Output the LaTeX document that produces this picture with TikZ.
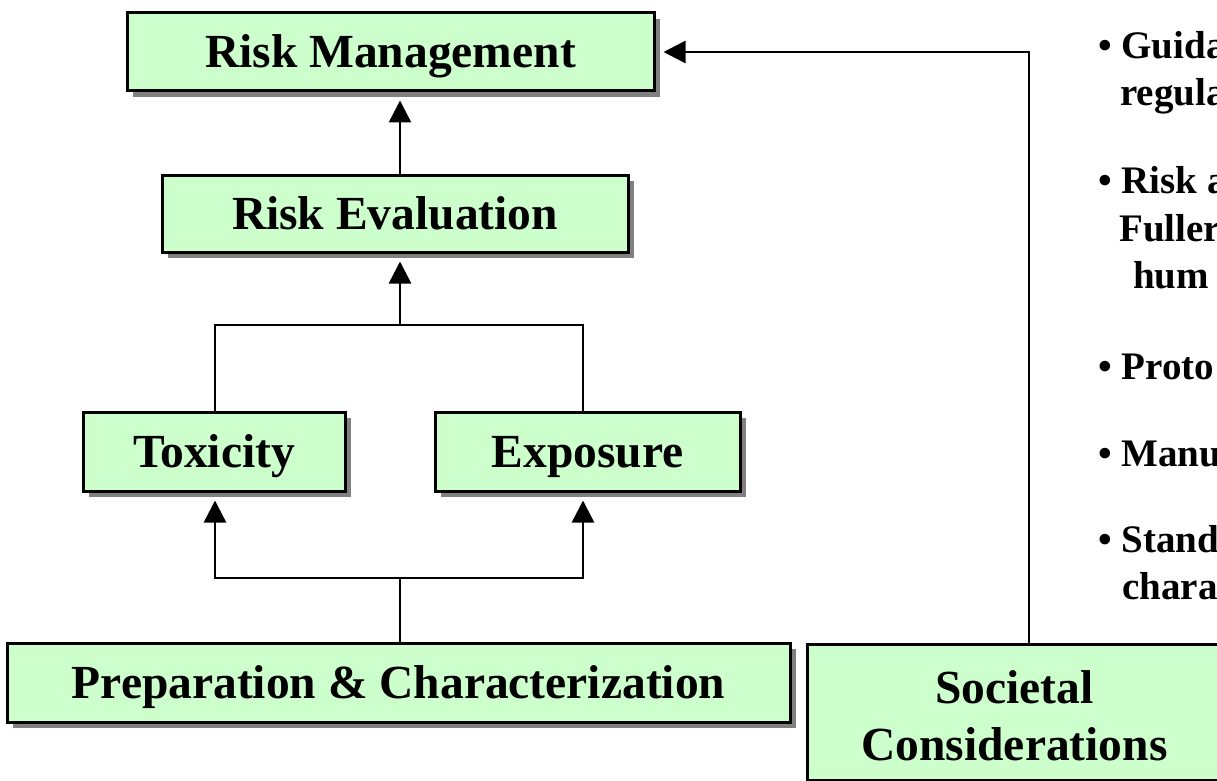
\documentclass[tikz,border=0pt]{standalone}
\usepackage{fontspec}
\setmainfont{Liberation Serif}
\usetikzlibrary{arrows.meta,shadows}
\definecolor{boxgreen}{HTML}{CCFFCC}
\definecolor{shadowgray}{HTML}{808080}
\begin{document}
\begin{tikzpicture}[x=1pt,y=-1pt,
  box/.style={draw=black, line width=3pt, fill=boxgreen, inner sep=0pt,
    font=\fontsize{47.5}{57}\selectfont\bfseries, align=center,
    drop shadow={shadow xshift=6pt, shadow yshift=-6pt, fill=shadowgray, opacity=1}},
  oneline/.style={text height=32pt, text depth=0pt},
  link/.style={line width=2.5pt},
  arr/.style={link, -{Triangle[length=22pt,width=22pt]}, shorten >=8pt},
  note/.style={anchor=base west, inner sep=0pt, font=\fontsize{39}{47}\selectfont\bfseries}]

% page area
\fill[white] (0,0) rectangle (1217,781);
\useasboundingbox (0,0) rectangle (1217,781);

% boxes
\node[box, oneline, minimum width=527pt, minimum height=78pt] (rm)   at (390.5,52)  {Risk Management};
\node[box, oneline, minimum width=466pt, minimum height=77pt] (ev)   at (395,213.5) {Risk Evaluation};
\node[box, oneline, minimum width=262pt, minimum height=79pt] (tox)  at (214,451.5) {Toxicity};
\node[box, oneline, minimum width=305pt, minimum height=79pt] (exp)  at (587.5,451.5) {Exposure};
\node[box, oneline, minimum width=783pt, minimum height=79pt] (prep) at (398.5,682.5) {Preparation \& Characterization};
\node[box, minimum width=415pt, minimum height=136pt] (soc) at (1014.5,712) {\strut Societal\\Considerations};

% junction points of the connectors
\coordinate (jtop) at (400,325);
\coordinate (tl) at (215,325);
\coordinate (tr) at (583,325);
\coordinate (jbot) at (400,578);
\coordinate (bl) at (215,578);
\coordinate (br) at (583,578);
\coordinate (sc) at (1029,52);

% connectors
\draw[link] (prep.north -| jbot) -- (jbot);
\draw[arr] (jbot) -- (bl) -- (bl |- tox.south);
\draw[arr] (jbot) -- (br) -- (br |- exp.south);
\draw[link] (tox.north -| tl) -- (tl) -- (tr) -- (exp.north -| tr);
\draw[arr] (jtop) -- (ev.south -| jtop);
\draw[arr] (ev.north -| jtop) -- (rm.south -| jtop);
\draw[arr] (soc.north -| sc) -- (sc) -- (rm.east);

% bullet list
\node[note] (b1a) at (1098,59)  {• Guida};
\node[note] (b1b) at (1120,106) {regula};
\node[note] (b2a) at (1098,193) {• Risk a};
\node[note] (b2b) at (1119,241) {Fuller};
\node[note] (b2c) at (1133,288) {hum};
\node[note] (b3a) at (1098,379) {• Proto};
\node[note] (b4a) at (1098,466) {• Manu};
\node[note] (b5a) at (1098,552) {• Stand};
\node[note] (b5b) at (1122,599) {chara};
\end{tikzpicture}
\end{document}
